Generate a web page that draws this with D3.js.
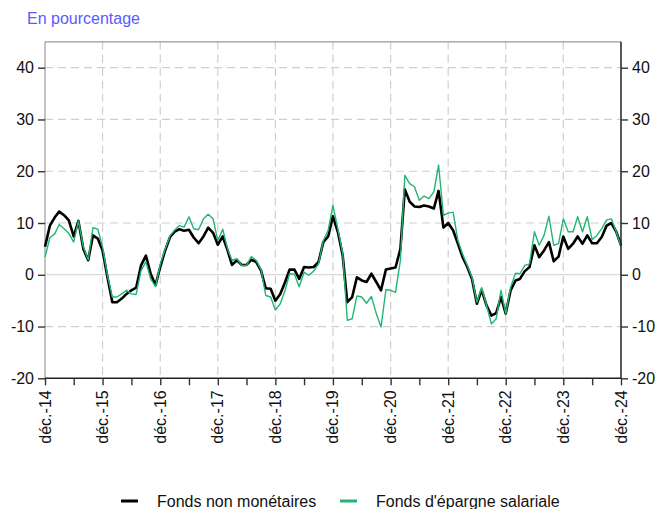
<!DOCTYPE html>
<html>
<head>
<meta charset="utf-8">
<script src="https://cdn.jsdelivr.net/npm/d3@7"></script>
<style>
  body { margin: 0; background: #fff; }
  svg { font-family: 'Liberation Sans', Arial, sans-serif; }
</style>
</head>
<body>
<svg id="chart" width="659" height="509"></svg>
<script>
// monthly growth rates, déc. 2014 -> déc. 2024
const startMonth = new Date(2014, 11, 1);
const fondsNonMonetaires = [
  5.4, 9.5, 11.1, 12.2, 11.5, 10.5, 7.4, 10.4, 5.0, 2.8, 7.6, 7.0,
  4.7, -0.5, -5.3, -5.3, -4.6, -3.7, -3.0, -2.5, 1.8, 3.7, 0.2, -2.0,
  1.5, 4.7, 7.3, 8.3, 8.8, 8.5, 8.7, 7.2, 6.1, 7.4, 9.1, 8.1,
  5.8, 7.4, 4.7, 1.9, 2.8, 1.9, 1.9, 2.9, 2.5, 0.8, -2.6, -2.7,
  -5.0, -3.7, -1.4, 1.0, 1.0, -0.8, 1.5, 1.4, 1.5, 2.5, 6.3, 7.4,
  11.3, 8.3, 3.7, -5.3, -4.3, -0.5, -1.1, -1.4, 0.2, -1.4, -3.0, 1.0,
  1.2, 1.4, 5.0, 16.5, 14.1, 13.2, 13.1, 13.4, 13.2, 12.8, 16.2, 9.1,
  10.0, 8.6, 6.0, 3.5, 1.5, -0.8, -5.6, -2.9, -5.9, -7.9, -7.4, -4.3,
  -7.5, -3.0, -1.1, -0.8, 0.7, 1.5, 5.7, 3.4, 4.7, 6.3, 2.6, 3.5,
  7.4, 5.0, 6.0, 7.4, 6.0, 7.6, 6.1, 6.1, 7.3, 9.5, 10.0, 8.3,
  5.7
];
const fondsEpargneSalariale = [
  3.4, 7.2, 7.9, 9.7, 8.9, 8.0, 6.3, 10.4, 5.4, 2.9, 9.1, 8.8,
  5.4, -0.1, -4.3, -4.3, -3.7, -3.0, -3.7, -3.8, 0.8, 2.5, -0.8, -2.3,
  2.0, 5.0, 7.5, 8.6, 9.5, 9.2, 11.2, 8.9, 8.7, 10.8, 11.7, 10.8,
  6.6, 8.8, 5.0, 2.8, 3.1, 1.8, 1.8, 3.5, 2.8, 1.0, -4.0, -4.3,
  -6.8, -5.6, -3.0, 0.2, 0.1, -2.3, 0.5, -0.1, 0.7, 2.1, 6.6, 8.6,
  13.4, 8.9, 4.1, -8.8, -8.5, -4.1, -4.3, -5.5, -4.2, -7.5, -10.1, -2.9,
  -3.0, -3.4, 2.8, 19.2, 17.6, 17.0, 14.4, 15.2, 14.7, 16.0, 21.2, 11.5,
  11.9, 12.1, 6.6, 4.1, 1.8, -0.5, -5.3, -2.5, -5.9, -9.5, -8.5, -3.0,
  -7.5, -2.4, 0.3, 0.2, 1.8, 2.1, 8.3, 5.7, 7.6, 11.3, 5.7, 6.0,
  10.8, 8.3, 8.3, 11.2, 8.3, 11.2, 6.8, 7.6, 8.9, 10.6, 10.8, 8.3,
  5.4
];
const yTicks = [-20, -10, 0, 10, 20, 30, 40];
const seriesNames = ['Fonds non monétaires', "Fonds d'épargne salariale"];
const seriesColors = ['#000000', '#22b573'];

const months = fondsNonMonetaires.map((d, i) => d3.timeMonth.offset(startMonth, i));
const lastMonth = months[months.length - 1];

const svg = d3.select('#chart');
const left = 45, right = 621;

const x = d3.scaleTime().domain([startMonth, lastMonth]).range([left, right]);
const y = d3.scaleLinear().domain([-20, 40]).range([378.3, 67.7]);
const yTop = y(45);

const fmt = d => 'déc.-' + d3.timeFormat('%y')(d);
const yearTicks = d3.timeMonth.range(startMonth, d3.timeMonth.offset(lastMonth, 1), 12);
const halfTicks = d3.timeMonth.range(startMonth, d3.timeMonth.offset(lastMonth, 1), 6);

// grid
const grid = svg.append('g');
grid.selectAll('line.hg')
  .data(yTicks.filter(v => v !== -20 && v !== 0))
  .join('line')
  .attr('x1', left).attr('x2', right)
  .attr('y1', d => y(d)).attr('y2', d => y(d))
  .attr('stroke', '#cfcfcf').attr('stroke-width', 1.2)
  .attr('stroke-dasharray', '8,5');
grid.selectAll('line.vg')
  .data(yearTicks.slice(1, -1))
  .join('line')
  .attr('x1', d => x(d)).attr('x2', d => x(d))
  .attr('y1', yTop).attr('y2', y(-20))
  .attr('stroke', '#cfcfcf').attr('stroke-width', 1.2)
  .attr('stroke-dasharray', '8,5');
grid.append('line')
  .attr('x1', left).attr('x2', right)
  .attr('y1', y(0)).attr('y2', y(0))
  .attr('stroke', '#cfcfcf').attr('stroke-width', 1.2);

// frame
svg.append('line').attr('x1', left).attr('x2', right).attr('y1', yTop).attr('y2', yTop)
  .attr('stroke', '#999').attr('stroke-width', 1.2);
svg.append('line').attr('x1', left).attr('x2', left).attr('y1', yTop).attr('y2', y(-20))
  .attr('stroke', '#999').attr('stroke-width', 1.2);

// lines
const line = d3.line().x((d, i) => x(months[i])).y(d => y(d));
svg.append('path').datum(fondsNonMonetaires)
  .attr('fill', 'none').attr('stroke', seriesColors[0])
  .attr('stroke-width', 2.6).attr('stroke-linejoin', 'round')
  .attr('d', line);
svg.append('path').datum(fondsEpargneSalariale)
  .attr('fill', 'none').attr('stroke', seriesColors[1])
  .attr('stroke-width', 1.4).attr('stroke-linejoin', 'round')
  .attr('d', line);

// axes
const yFmt = d => String(d);
const yLeft = svg.append('g').attr('transform', `translate(${left},0)`)
  .call(d3.axisLeft(y).tickValues(yTicks).tickSize(7).tickPadding(4).tickFormat(yFmt));
const yRight = svg.append('g').attr('transform', `translate(${right},0)`)
  .call(d3.axisRight(y).tickValues(yTicks).tickSize(7).tickPadding(4).tickFormat(yFmt));
yLeft.select('.domain').remove();
yRight.select('.domain').attr('d', `M0,${yTop}V${y(-20)}`).attr('stroke', '#222').attr('stroke-width', 1.5);

const xAxis = svg.append('g').attr('transform', `translate(0,${y(-20)})`)
  .call(d3.axisBottom(x).tickValues(halfTicks).tickSize(7).tickFormat(''));
xAxis.select('.domain').attr('d', `M${left},0H${right}`).attr('stroke', '#222').attr('stroke-width', 1.5);

svg.append('g').selectAll('text')
  .data(yearTicks)
  .join('text')
  .attr('transform', d => `translate(${x(d) + 5.5},${y(-20) + 12}) rotate(-90)`)
  .attr('text-anchor', 'end')
  .attr('font-size', 16)
  .attr('fill', '#111')
  .text(fmt);

[yLeft, yRight, xAxis].forEach(g => {
  g.selectAll('.tick line').attr('stroke', '#333').attr('stroke-width', 1.4);
  g.selectAll('.tick text').attr('font-size', 16).attr('fill', '#111')
    .attr('font-family', "'Liberation Sans', Arial, sans-serif");
});

// title
svg.append('text')
  .attr('x', 27).attr('y', 24)
  .attr('font-size', 16)
  .attr('fill', '#5a5aff')
  .text('En pourcentage');

// legend
const legendX = [121, 340];
const legend = svg.append('g').selectAll('g')
  .data(seriesNames)
  .join('g')
  .attr('transform', (d, i) => `translate(${legendX[i]},501)`);
legend.append('line')
  .attr('x1', 0).attr('x2', 17)
  .attr('stroke', (d, i) => seriesColors[i])
  .attr('stroke-width', 3);
legend.append('text')
  .attr('x', 36).attr('y', 5.5)
  .attr('font-size', 16)
  .attr('fill', '#111')
  .text(d => d);
</script>
</body>
</html>
